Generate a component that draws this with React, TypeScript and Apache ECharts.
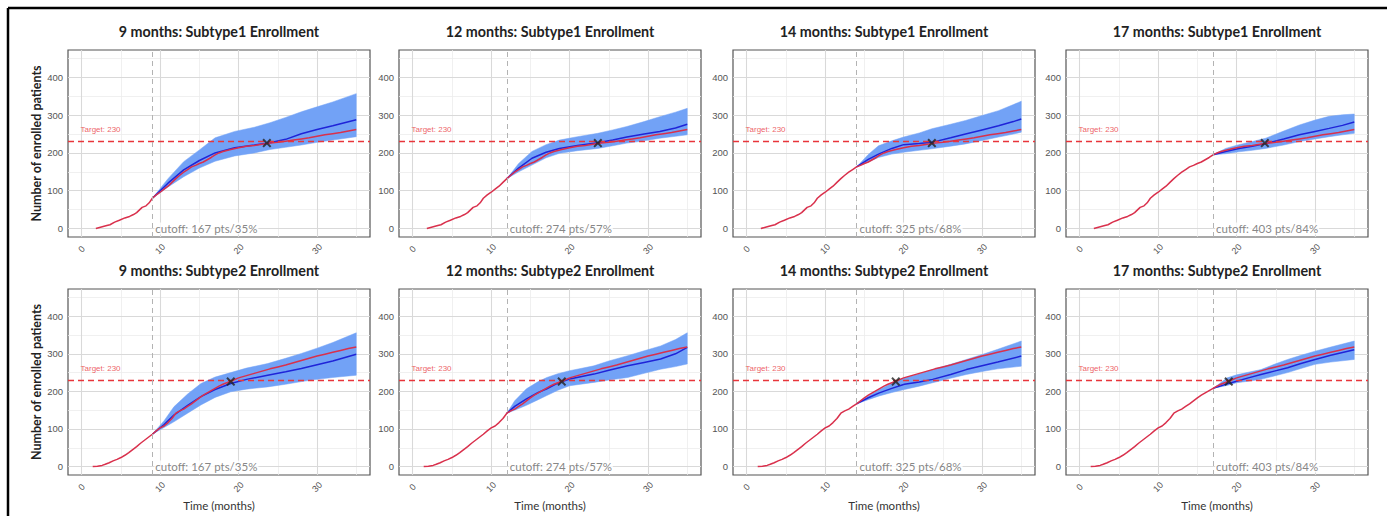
import React, { useEffect, useRef } from "react";
import * as echarts from "echarts";

// ---------- data ----------
const cutoffMonths = [9, 12, 14, 17];
const cutoffLabels = ["cutoff: 167 pts/35%", "cutoff: 274 pts/57%", "cutoff: 325 pts/68%", "cutoff: 403 pts/84%"];
const subtypes = ["Subtype1", "Subtype2"];
const targetValue = 230;
const xTicks = [0, 10, 20, 30];
const xMinor = [5, 15, 25, 35];
const yTicks = [0, 100, 200, 300, 400];
const yMinor = [50, 150, 250, 350, 450];

// observed enrollment (red)
const obs1X = [1.8, 2.5, 3.2, 3.6, 4.2, 4.8, 5.5, 6.1, 6.6, 7.0, 7.4, 7.7, 8.2, 8.6, 9.0, 9.5, 10.0, 10.5, 11.0, 11.5, 12.0, 12.5, 13.0, 13.5, 14.0, 14.5, 15.0, 15.5, 16.0, 16.5, 17.0, 17.5, 18.0, 19.0, 20.0, 21.0, 22.0, 23.0, 24.0, 25.0, 26.0, 27.0, 28.0, 29.0, 30.0, 31.0, 32.0, 33.0, 34.0, 35.0];
const obs1Y = [0, 4, 8, 10, 17, 22, 28, 32, 37, 42, 50, 56, 60, 68, 80, 89, 96, 104, 112, 122, 132, 141, 149, 156, 163, 167, 172, 176, 182, 188, 195, 200, 204, 209, 214, 218, 220, 223, 226, 228, 231, 234, 237, 240, 244, 248, 251, 254, 258, 262];
const obs2X = [1.4, 2.0, 2.6, 3.0, 3.5, 4.0, 4.5, 5.0, 5.5, 6.0, 6.5, 7.0, 7.5, 8.0, 8.5, 9.0, 9.5, 10.0, 10.5, 11.0, 11.5, 12.0, 12.5, 13.0, 13.5, 14.0, 14.5, 15.0, 15.5, 16.0, 16.5, 17.0, 17.5, 18.0, 18.5, 19.0, 20.0, 21.0, 22.0, 23.0, 24.0, 25.0, 26.0, 27.0, 28.0, 29.0, 30.0, 31.0, 32.0, 33.0, 34.0, 35.0];
const obs2Y = [0, 1, 3, 6, 10, 15, 19, 24, 30, 37, 45, 53, 62, 70, 78, 86, 95, 103, 108, 117, 128, 142, 148, 153, 160, 167, 175, 183, 190, 196, 202, 208, 214, 219, 223, 227, 236, 242, 248, 254, 260, 265, 270, 276, 282, 288, 294, 299, 304, 309, 314, 318];

// predictions Subtype1
const s1m9X = [9, 11, 13, 15, 17, 19.5, 22, 24, 26, 28, 30, 32, 35];
const s1m9Med = [80, 120, 155, 180, 200, 214, 221, 227, 236, 251, 262, 272, 288];
const s1m9Up = [80, 132, 177, 208, 240, 257, 268, 280, 294, 309, 322, 335, 357];
const s1m9Lo = [80, 110, 137, 160, 178, 192, 200, 209, 215, 221, 228, 234, 243];

const s1m12X = [12, 13.5, 15.2, 17, 18.7, 21, 23.6, 25.5, 27.3, 29.5, 31.5, 33.5, 35];
const s1m12Med = [132, 160, 186, 202, 212, 220, 227, 234, 242, 250, 257, 266, 276];
const s1m12Up = [132, 172, 204, 222, 234, 243, 252, 261, 270, 283, 296, 308, 318];
const s1m12Lo = [132, 150, 168, 187, 199, 206, 212, 219, 226, 232, 239, 244, 248];

const s1m14X = [14, 15.5, 16.8, 18.5, 20, 22, 23.6, 26, 27.9, 30, 32.1, 34, 35];
const s1m14Med = [163, 183, 197, 212, 222, 225, 228, 240, 250, 261, 272, 283, 290];
const s1m14Up = [163, 196, 219, 232, 242, 253, 264, 276, 286, 299, 312, 328, 337];
const s1m14Lo = [163, 176, 188, 197, 202, 207, 211, 218, 224, 233, 242, 250, 255];

const s1m17X = [17, 18.6, 20.3, 22, 23.7, 26, 28, 30, 31.8, 33.5, 35];
const s1m17Med = [195, 204, 212, 218, 225, 237, 248, 257, 265, 273, 282];
const s1m17Up = [195, 212, 222, 230, 239, 258, 274, 287, 297, 301, 303];
const s1m17Lo = [195, 198, 203, 207, 212, 221, 230, 237, 243, 248, 252];

// predictions Subtype2
const s2m9X = [9, 10.5, 11.75, 13.5, 15.2, 17, 19, 21, 23.7, 26, 28, 30, 32, 35];
const s2m9Med = [86, 112, 137, 163, 186, 205, 221, 232, 243, 252, 261, 271, 281, 299];
const s2m9Up = [86, 122, 159, 193, 221, 238, 250, 262, 274, 288, 301, 315, 330, 356];
const s2m9Lo = [86, 104, 119, 142, 164, 184, 199, 206, 212, 219, 226, 232, 237, 243];

const s2m12X = [12, 13, 14.5, 16, 17.1, 18.5, 20, 23.1, 25, 27.4, 29.5, 31.6, 33.5, 35];
const s2m12Med = [142, 160, 180, 197, 207, 222, 233, 246, 256, 268, 277, 286, 300, 317];
const s2m12Up = [142, 175, 207, 226, 237, 247, 255, 268, 281, 295, 308, 321, 338, 356];
const s2m12Lo = [142, 150, 163, 178, 189, 203, 215, 224, 230, 237, 248, 259, 266, 273];

const s2m14X = [14, 15.5, 16.9, 18.5, 20.1, 22, 23.7, 26, 28, 30, 32, 35];
const s2m14Med = [167, 183, 196, 208, 219, 225, 232, 245, 258, 268, 278, 294];
const s2m14Up = [167, 188, 205, 222, 236, 247, 258, 272, 285, 298, 312, 334];
const s2m14Lo = [167, 178, 188, 197, 205, 214, 223, 235, 245, 253, 260, 267];

const s2m17X = [17, 18.8, 20, 21.5, 23.1, 24.8, 26.5, 28.2, 30, 32, 35];
const s2m17Med = [208, 220, 227, 236, 245, 254, 263, 274, 285, 296, 311];
const s2m17Up = [208, 236, 244, 251, 258, 272, 285, 296, 307, 318, 334];
const s2m17Lo = [208, 216, 223, 227, 232, 241, 250, 261, 272, 278, 285];

// target reached markers
const crossS1 = [23.6, 226];
const crossS2 = [19, 226];

// ---------- assembly ----------
const predictions = [
  [
    [s1m9X, s1m9Med, s1m9Up, s1m9Lo],
    [s1m12X, s1m12Med, s1m12Up, s1m12Lo],
    [s1m14X, s1m14Med, s1m14Up, s1m14Lo],
    [s1m17X, s1m17Med, s1m17Up, s1m17Lo],
  ],
  [
    [s2m9X, s2m9Med, s2m9Up, s2m9Lo],
    [s2m12X, s2m12Med, s2m12Up, s2m12Lo],
    [s2m14X, s2m14Med, s2m14Up, s2m14Lo],
    [s2m17X, s2m17Med, s2m17Up, s2m17Lo],
  ],
];
const observed = [
  [obs1X, obs1Y],
  [obs2X, obs2Y],
];
const crosses = [crossS1, crossS2];

const gridLefts = [68, 399, 733, 1066];
const gridWidth = 302;
const gridTops = [50, 289];
const gridHeights = [187, 186];

const BAND = "#72a2f6";
const BLUE = "#1f24d8";
const RED = "#d9304c";
const TARGET_RED = "#e8353b";
const FONT = "Lato, 'Liberation Sans', sans-serif";
const TICK_FONT = "'Liberation Sans', Arial, sans-serif";
const X_PATH = "path://M0,1.6L1.6,0L5,3.4L8.4,0L10,1.6L6.6,5L10,8.4L8.4,10L5,6.6L1.6,10L0,8.4L3.4,5Z";

const zip = (a: number[], b: number[]) => a.map((v, i) => [v, b[i]]);

function buildOption() {
  const grid: any[] = [];
  const xAxis: any[] = [];
  const yAxis: any[] = [];
  const series: any[] = [];
  const title: any[] = [];

  for (let r = 0; r < 2; r++) {
    for (let c = 0; c < 4; c++) {
      const idx = r * 4 + c;
      const left = gridLefts[c];
      const top = gridTops[r];
      grid.push({
        left,
        top,
        width: gridWidth,
        height: gridHeights[r],
        show: true,
        backgroundColor: "#fff",
        borderColor: "#555",
        borderWidth: 1.2,
      });
      title.push({
        text: `${cutoffMonths[c]} months: ${subtypes[r]} Enrollment`,
        left: left + gridWidth / 2,
        top: top - 26,
        textAlign: "center",
        padding: 0,
        textStyle: { fontFamily: FONT, fontSize: 14.3, fontWeight: "bold", color: "#222" },
      });
      xAxis.push({
        gridIndex: idx,
        type: "value",
        min: -1.75,
        max: 36.75,
        axisLine: { show: false },
        axisTick: { show: true, customValues: xTicks, length: 3, lineStyle: { color: "#666" } },
        axisLabel: {
          customValues: xTicks,
          rotate: 45,
          align: "center",
          verticalAlign: "middle",
          margin: 12,
          fontSize: 9,
          fontFamily: TICK_FONT,
          color: "#555",
        },
        splitLine: { show: false },
        name: r === 1 ? "Time (months)" : "",
        nameLocation: "middle",
        nameGap: 24,
        nameTextStyle: { fontFamily: FONT, fontSize: 11.5, color: "#333" },
      });
      yAxis.push({
        gridIndex: idx,
        type: "value",
        min: -22.5,
        max: 472.5,
        axisLine: { show: false },
        axisTick: { show: true, customValues: yTicks, length: 3, lineStyle: { color: "#666" } },
        axisLabel: { customValues: yTicks, fontSize: 9.5, fontFamily: TICK_FONT, color: "#555", margin: 5 },
        splitLine: { show: false },
        name: c === 0 ? "Number of enrolled patients" : "",
        nameLocation: "middle",
        nameGap: 21,
        nameTextStyle: { fontFamily: FONT, fontSize: 12.5, fontWeight: "bold", color: "#222" },
      });

      const ax = { xAxisIndex: idx, yAxisIndex: idx };
      // grid lines
      const gl: any[] = [];
      xMinor.forEach((v) => gl.push({ xAxis: v, lineStyle: { color: "#ececec", width: 0.8, type: "solid" } }));
      yMinor.forEach((v) => gl.push({ yAxis: v, lineStyle: { color: "#ececec", width: 0.8, type: "solid" } }));
      xTicks.forEach((v) => gl.push({ xAxis: v, lineStyle: { color: "#d9d9d9", width: 1.1, type: "solid" } }));
      yTicks.forEach((v) => gl.push({ yAxis: v, lineStyle: { color: "#d9d9d9", width: 1.1, type: "solid" } }));
      series.push({
        type: "line",
        ...ax,
        data: [],
        z: 1,
        silent: true,
        markLine: { silent: true, z: 1, symbol: "none", label: { show: false }, data: gl, animation: false },
      });

      const [px, pmed, pup, plo] = predictions[r][c];
      // prediction band as polygon through the axis scales
      series.push({
        type: "custom",
        ...ax,
        data: [[px[0], plo[0]]],
        z: 2,
        silent: true,
        clip: true,
        renderItem: (params: any, api: any) => {
          const pts: number[][] = [];
          for (let i = 0; i < px.length; i++) pts.push(api.coord([px[i], pup[i]]));
          for (let i = px.length - 1; i >= 0; i--) pts.push(api.coord([px[i], plo[i]]));
          return {
            type: "polygon",
            shape: { points: pts },
            style: { fill: BAND, stroke: BAND, lineWidth: 0.5 },
          };
        },
      });
      series.push({
        type: "line",
        ...ax,
        data: zip(px, pmed),
        symbol: "none",
        lineStyle: { color: BLUE, width: 1.5 },
        z: 3,
      });
      const [ox, oy] = observed[r];
      series.push({
        type: "line",
        ...ax,
        data: zip(ox, oy),
        symbol: "none",
        lineStyle: { color: RED, width: 1.5 },
        z: 4,
      });
      // reference lines
      series.push({
        type: "line",
        ...ax,
        data: [],
        z: 5,
        silent: true,
        markLine: {
          silent: true,
          z: 5,
          symbol: "none",
          label: { show: false },
          animation: false,
          data: [
            { yAxis: targetValue, lineStyle: { color: TARGET_RED, width: 1.3, type: [6, 4] } },
            { xAxis: cutoffMonths[c], lineStyle: { color: "#b3b3b3", width: 1, type: [5, 4] } },
          ],
        },
      });
      // target label
      series.push({
        type: "scatter",
        ...ax,
        data: [[2.4, 262]],
        symbolSize: 0,
        z: 6,
        silent: true,
        label: {
          show: true,
          position: "inside",
          formatter: "Target: " + targetValue,
          fontSize: 8,
          fontFamily: TICK_FONT,
          color: TARGET_RED,
        },
      });
      // cutoff label
      series.push({
        type: "scatter",
        ...ax,
        data: [[cutoffMonths[c], 0]],
        symbolSize: 0,
        z: 7,
        silent: true,
        label: {
          show: true,
          position: "right",
          distance: 2,
          formatter: cutoffLabels[c],
          fontSize: 11.5,
          fontFamily: FONT,
          color: "#666",
          backgroundColor: "#fff",
          padding: [0, 1, 0, 1],
        },
      });
      // target reached marker
      series.push({
        type: "scatter",
        ...ax,
        data: [crosses[r]],
        symbol: X_PATH,
        symbolSize: 9,
        itemStyle: { color: "#222" },
        z: 8,
        silent: true,
      });
    }
  }

  return {
    animation: false,
    backgroundColor: "#fff",
    textStyle: { fontFamily: FONT },
    title,
    grid,
    xAxis,
    yAxis,
    series,
    graphic: [
      { type: "line", shape: { x1: 8, y1: 8, x2: 1387, y2: 8 }, style: { stroke: "#000", lineWidth: 2.5 }, z: 100 },
      { type: "line", shape: { x1: 8, y1: 8, x2: 8, y2: 516 }, style: { stroke: "#000", lineWidth: 2.5 }, z: 100 },
    ],
  };
}

export default function App() {
  const ref = useRef<HTMLDivElement>(null);
  useEffect(() => {
    if (!ref.current) return;
    const chart = echarts.init(ref.current, undefined, { renderer: "svg" });
    chart.setOption(buildOption() as any);
    return () => chart.dispose();
  }, []);
  return (
    <div
      ref={ref}
      style={{ position: "absolute", left: 0, top: 0, width: 1387, height: 516, background: "#fff" }}
    />
  );
}
